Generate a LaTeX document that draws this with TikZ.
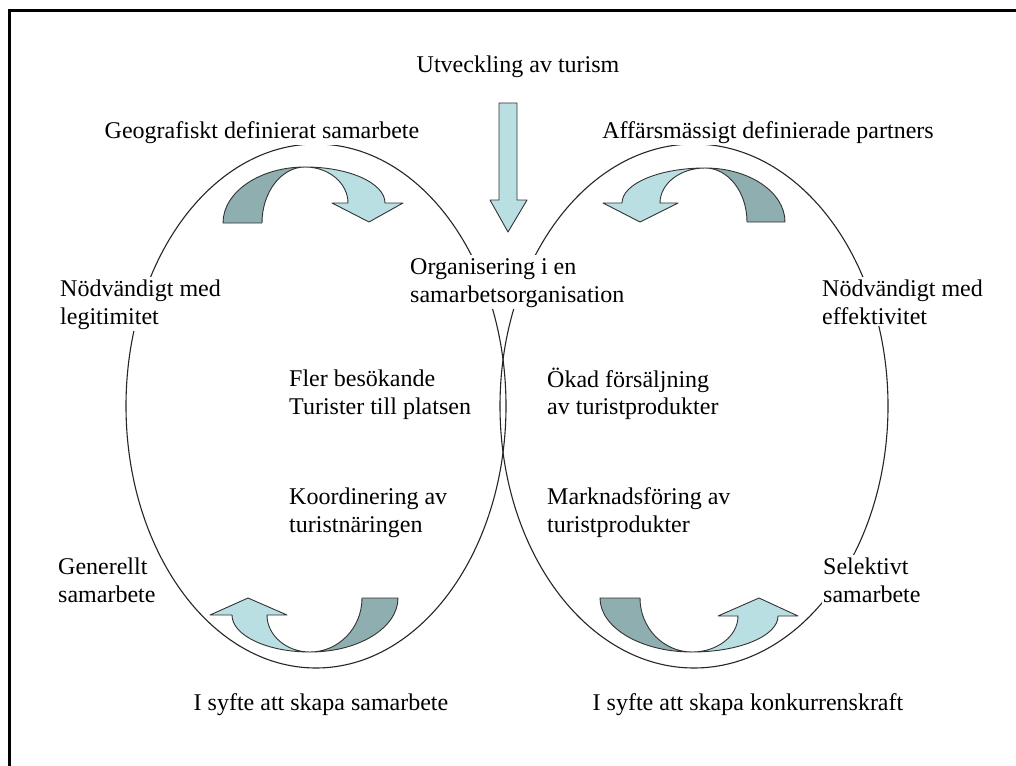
\documentclass[tikz,border=0pt]{standalone}
\usepackage{fontspec}
\setmainfont{Liberation Serif}
\definecolor{arrowlight}{RGB}{185,223,226}
\definecolor{arrowdark}{RGB}{143,174,175}
\tikzset{
  lbl/.style={font=\fontsize{24}{27.5}\selectfont, fill=white, inner sep=1pt, align=left, anchor=north west},
  ttl/.style={font=\fontsize{24}{27.5}\selectfont, fill=white, inner sep=1pt, anchor=base},
  loopline/.style={draw=black!85, line width=1.1pt},
  bandlight/.style={fill=arrowlight, draw=black!80, line width=0.9pt, line join=round},
  banddark/.style={fill=arrowdark, draw=black!80, line width=0.9pt, line join=round},
  frameline/.style={line width=3pt, draw=black}
}
\begin{document}
\begin{tikzpicture}[x=1pt,y=-1pt]
\useasboundingbox (0,0) rectangle (1016,765);
\fill[white] (0,0) rectangle (1016,765);
% outer frame (left and top edges)
\draw[frameline] (9,770) -- (9,11) -- (1020,11);

% the two overlapping cycles
\draw[loopline] (316,406) ellipse [x radius=190, y radius=262];
\draw[loopline] (694,406) ellipse [x radius=194, y radius=262];

% labels
\node[ttl] (dev) at (518,73) {Utveckling av turism};
\node[ttl] (geo) at (262,139) {Geografiskt definierat samarbete};
\node[ttl] (aff) at (768,139) {Affärsmässigt definierade partners};
\node[lbl] (org) at (409,254.4) {\strut Organisering i en\\samarbetsorganisation};
\node[lbl] (legit) at (59,276.4) {\strut Nödvändigt med\\legitimitet};
\node[lbl] (effekt) at (821,276.4) {\strut Nödvändigt med\\effektivitet};
\node[lbl] (fler) at (288,366.4) {\strut Fler besökande\\Turister till platsen};
\node[lbl] (okad) at (546,366.4) {\strut Ökad försäljning\\av turistprodukter};
\node[lbl] (koord) at (288,484.4) {\strut Koordinering av\\turistnäringen};
\node[lbl] (mark) at (546,484.4) {\strut Marknadsföring av\\turistprodukter};
\node[lbl] (gen) at (57,554.4) {\strut Generellt\\samarbete};
\node[lbl] (sel) at (822,554.4) {\strut Selektivt\\samarbete};
\node[ttl] (syfteA) at (321,710) {I syfte att skapa samarbete};
\node[ttl] (syfteB) at (748,710) {I syfte att skapa konkurrenskraft};

% block arrow from the top label down into the organisation
\draw[bandlight] (499,103) -- (517,103) -- (517,200) -- (527,200) -- (508,232)
  -- (490,200) -- (499,200) -- cycle;

% curved arrow, top left
\draw[banddark] (223,223) .. controls (223,192.1) and (259.7,167) .. (305,167)
  .. controls (281.3,167) and (262,192.1) .. (262,223) -- cycle;
\draw[bandlight] (305,167) .. controls (349.2,167) and (385,183.1) .. (385,203)
  -- (403,203) -- (369,222) -- (332,203) -- (348,203)
  .. controls (348,183.1) and (328.7,167) .. (305,167) -- cycle;

% curved arrow, top right
\draw[banddark] (785,222) .. controls (785,192.2) and (749.2,168) .. (705,168)
  .. controls (728.2,168) and (747,192.2) .. (747,222) -- cycle;
\draw[bandlight] (705,168) .. controls (659.2,168) and (622,183.7) .. (622,203)
  -- (603,203) -- (640,222) -- (678,203) -- (660,203)
  .. controls (660,183.7) and (680.1,168) .. (705,168) -- cycle;

% curved arrow, bottom left
\draw[banddark] (398,598) .. controls (398,627.8) and (358.6,652) .. (310,652)
  .. controls (338.7,652) and (362,627.8) .. (362,598) -- cycle;
\draw[bandlight] (310,652) .. controls (266.9,652) and (232,635.4) .. (232,615)
  -- (210,615) -- (248,598) -- (287,615) -- (267,615)
  .. controls (267,635.4) and (286.3,652) .. (310,652) -- cycle;

% curved arrow, bottom right
\draw[banddark] (600,598) .. controls (600,627.8) and (641.2,652) .. (692,652)
  .. controls (663.3,652) and (640,627.8) .. (640,598) -- cycle;
\draw[bandlight] (692,652) .. controls (739.5,652) and (778,635.9) .. (778,616)
  -- (798,616) -- (759,598) -- (718,616) -- (738,616)
  .. controls (738,635.9) and (717.4,652) .. (692,652) -- cycle;
\end{tikzpicture}
\end{document}
